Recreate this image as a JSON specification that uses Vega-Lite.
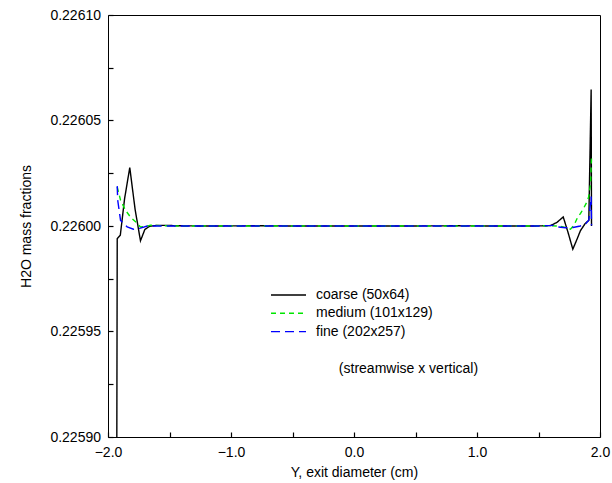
{
  "$schema": "https://vega.github.io/schema/vega-lite/v6.json",
  "width": 492,
  "height": 422,
  "autosize": {"type": "none"},
  "padding": {"left": 108, "top": 15, "right": 12, "bottom": 46},
  "config": {
    "view": {"stroke": "black", "strokeWidth": 1},
    "font": "Liberation Sans",
    "axis": {
      "domain": false,
      "grid": false,
      "ticks": true,
      "tickColor": "black",
      "tickWidth": 1.2,
      "tickSize": -5,
      "labelFont": "Liberation Sans",
      "labelFontSize": 14,
      "labelColor": "black",
      "titleFont": "Liberation Sans",
      "titleFontSize": 14,
      "titleFontWeight": "normal",
      "titleColor": "black"
    }
  },
  "datasets": {
    "lines": [
      {"grid": "coarse (50x64)", "y_cm": -1.93, "h2o": 0.22585},
      {"grid": "coarse (50x64)", "y_cm": -1.925, "h2o": 0.225994},
      {"grid": "coarse (50x64)", "y_cm": -1.9, "h2o": 0.2259956},
      {"grid": "coarse (50x64)", "y_cm": -1.865, "h2o": 0.226013},
      {"grid": "coarse (50x64)", "y_cm": -1.823, "h2o": 0.2260277},
      {"grid": "coarse (50x64)", "y_cm": -1.78, "h2o": 0.226008},
      {"grid": "coarse (50x64)", "y_cm": -1.736, "h2o": 0.225993},
      {"grid": "coarse (50x64)", "y_cm": -1.7, "h2o": 0.2259984},
      {"grid": "coarse (50x64)", "y_cm": -1.66, "h2o": 0.2259999},
      {"grid": "coarse (50x64)", "y_cm": -1.6, "h2o": 0.2260003},
      {"grid": "coarse (50x64)", "y_cm": -1.52, "h2o": 0.2260003},
      {"grid": "coarse (50x64)", "y_cm": -1.44, "h2o": 0.2260001},
      {"grid": "coarse (50x64)", "y_cm": -1.2, "h2o": 0.226},
      {"grid": "coarse (50x64)", "y_cm": -0.8, "h2o": 0.2260001},
      {"grid": "coarse (50x64)", "y_cm": -0.4, "h2o": 0.226},
      {"grid": "coarse (50x64)", "y_cm": 0.0, "h2o": 0.226},
      {"grid": "coarse (50x64)", "y_cm": 0.4, "h2o": 0.226},
      {"grid": "coarse (50x64)", "y_cm": 0.8, "h2o": 0.2260001},
      {"grid": "coarse (50x64)", "y_cm": 1.2, "h2o": 0.226},
      {"grid": "coarse (50x64)", "y_cm": 1.45, "h2o": 0.226},
      {"grid": "coarse (50x64)", "y_cm": 1.55, "h2o": 0.2260001},
      {"grid": "coarse (50x64)", "y_cm": 1.598, "h2o": 0.2260002},
      {"grid": "coarse (50x64)", "y_cm": 1.65, "h2o": 0.2260017},
      {"grid": "coarse (50x64)", "y_cm": 1.701, "h2o": 0.2260043},
      {"grid": "coarse (50x64)", "y_cm": 1.74, "h2o": 0.225997},
      {"grid": "coarse (50x64)", "y_cm": 1.779, "h2o": 0.225989},
      {"grid": "coarse (50x64)", "y_cm": 1.815, "h2o": 0.225994},
      {"grid": "coarse (50x64)", "y_cm": 1.841, "h2o": 0.2259978},
      {"grid": "coarse (50x64)", "y_cm": 1.88, "h2o": 0.2260012},
      {"grid": "coarse (50x64)", "y_cm": 1.909, "h2o": 0.2260027},
      {"grid": "coarse (50x64)", "y_cm": 1.928, "h2o": 0.2260647},
      {"grid": "coarse (50x64)", "y_cm": 1.931, "h2o": 0.226},
      {"grid": "medium (101x129)", "y_cm": -1.925, "h2o": 0.2260185},
      {"grid": "medium (101x129)", "y_cm": -1.898, "h2o": 0.2260122},
      {"grid": "medium (101x129)", "y_cm": -1.858, "h2o": 0.2260075},
      {"grid": "medium (101x129)", "y_cm": -1.817, "h2o": 0.2260042},
      {"grid": "medium (101x129)", "y_cm": -1.776, "h2o": 0.226002},
      {"grid": "medium (101x129)", "y_cm": -1.736, "h2o": 0.2259995},
      {"grid": "medium (101x129)", "y_cm": -1.695, "h2o": 0.2259998},
      {"grid": "medium (101x129)", "y_cm": -1.654, "h2o": 0.2260004},
      {"grid": "medium (101x129)", "y_cm": -1.58, "h2o": 0.2260002},
      {"grid": "medium (101x129)", "y_cm": -1.4, "h2o": 0.226},
      {"grid": "medium (101x129)", "y_cm": -0.7, "h2o": 0.226},
      {"grid": "medium (101x129)", "y_cm": 0.0, "h2o": 0.226},
      {"grid": "medium (101x129)", "y_cm": 0.7, "h2o": 0.226},
      {"grid": "medium (101x129)", "y_cm": 1.4, "h2o": 0.226},
      {"grid": "medium (101x129)", "y_cm": 1.55, "h2o": 0.2260001},
      {"grid": "medium (101x129)", "y_cm": 1.65, "h2o": 0.226},
      {"grid": "medium (101x129)", "y_cm": 1.7, "h2o": 0.2259996},
      {"grid": "medium (101x129)", "y_cm": 1.76, "h2o": 0.2259985},
      {"grid": "medium (101x129)", "y_cm": 1.79, "h2o": 0.2260005},
      {"grid": "medium (101x129)", "y_cm": 1.815, "h2o": 0.2260037},
      {"grid": "medium (101x129)", "y_cm": 1.842, "h2o": 0.226006},
      {"grid": "medium (101x129)", "y_cm": 1.866, "h2o": 0.2260083},
      {"grid": "medium (101x129)", "y_cm": 1.89, "h2o": 0.226011},
      {"grid": "medium (101x129)", "y_cm": 1.907, "h2o": 0.2260136},
      {"grid": "medium (101x129)", "y_cm": 1.923, "h2o": 0.22602},
      {"grid": "medium (101x129)", "y_cm": 1.931, "h2o": 0.226032},
      {"grid": "fine (202x257)", "y_cm": -1.925, "h2o": 0.2260189},
      {"grid": "fine (202x257)", "y_cm": -1.921, "h2o": 0.2260122},
      {"grid": "fine (202x257)", "y_cm": -1.898, "h2o": 0.2260027},
      {"grid": "fine (202x257)", "y_cm": -1.844, "h2o": 0.2259996},
      {"grid": "fine (202x257)", "y_cm": -1.793, "h2o": 0.2259985},
      {"grid": "fine (202x257)", "y_cm": -1.736, "h2o": 0.225999},
      {"grid": "fine (202x257)", "y_cm": -1.681, "h2o": 0.226},
      {"grid": "fine (202x257)", "y_cm": -1.5, "h2o": 0.226},
      {"grid": "fine (202x257)", "y_cm": -0.8, "h2o": 0.226},
      {"grid": "fine (202x257)", "y_cm": 0.0, "h2o": 0.226},
      {"grid": "fine (202x257)", "y_cm": 0.8, "h2o": 0.226},
      {"grid": "fine (202x257)", "y_cm": 1.5, "h2o": 0.226},
      {"grid": "fine (202x257)", "y_cm": 1.58, "h2o": 0.2260002},
      {"grid": "fine (202x257)", "y_cm": 1.622, "h2o": 0.2260003},
      {"grid": "fine (202x257)", "y_cm": 1.66, "h2o": 0.2259995},
      {"grid": "fine (202x257)", "y_cm": 1.72, "h2o": 0.2259992},
      {"grid": "fine (202x257)", "y_cm": 1.78, "h2o": 0.2259993},
      {"grid": "fine (202x257)", "y_cm": 1.84, "h2o": 0.226},
      {"grid": "fine (202x257)", "y_cm": 1.88, "h2o": 0.2260009},
      {"grid": "fine (202x257)", "y_cm": 1.909, "h2o": 0.2260027},
      {"grid": "fine (202x257)", "y_cm": 1.928, "h2o": 0.226014},
      {"grid": "fine (202x257)", "y_cm": 1.931, "h2o": 0.2260003}
    ],
    "note": [
      {"y_cm": 0.443, "h2o": 0.225932, "label": "(streamwise x vertical)"}
    ]
  },
  "layer": [
    {
      "data": {"name": "lines"},
      "mark": {"type": "line", "clip": true, "strokeWidth": 1.4},
      "encoding": {
        "x": {
          "field": "y_cm", "type": "quantitative",
          "scale": {"domain": [-2, 2], "nice": false, "zero": false},
          "axis": {
            "orient": "bottom",
            "values": [-2, -1.5, -1, -0.5, 0, 0.5, 1, 1.5, 2],
            "format": ".1f",
            "labelExpr": "datum.value % 1 == 0 ? datum.label : ''",
            "tickSize": -5,
            "labelPadding": 13,
            "labelFlush": false,
            "title": "Y, exit diameter (cm)",
            "titlePadding": 6
          }
        },
        "y": {
          "field": "h2o", "type": "quantitative",
          "scale": {"domain": [0.2259, 0.2261], "nice": false, "zero": false},
          "axis": {
            "orient": "left",
            "values": [0.2259, 0.225925, 0.22595, 0.225975, 0.226, 0.226025, 0.22605, 0.226075, 0.2261],
            "format": ".5f",
            "labelExpr": "round(datum.value*1000000) % 50 == 0 ? datum.label : ''",
            "tickSize": -5,
            "labelPadding": 12.5,
            "labelFlush": false,
            "title": "H2O mass fractions",
            "titlePadding": 16
          }
        },
        "color": {
          "field": "grid", "type": "nominal",
          "scale": {"domain": ["coarse (50x64)", "medium (101x129)", "fine (202x257)"], "range": ["#000000", "#00e600", "#0000ff"]},
          "legend": {
            "title": null, "orient": "none", "legendX": 162, "legendY": 272,
            "symbolType": "stroke", "symbolSize": 1225, "symbolStrokeWidth": 1.4,
            "clipHeight": 16, "rowPadding": 2.3, "labelOffset": 9,
            "labelFont": "Liberation Sans", "labelFontSize": 14, "labelColor": "black",
            "padding": 0, "offset": 0
          }
        },
        "strokeDash": {
          "field": "grid", "type": "nominal",
          "scale": {"domain": ["coarse (50x64)", "medium (101x129)", "fine (202x257)"], "range": [[1, 0], [5, 4], [9, 5]]},
          "legend": {
            "title": null, "orient": "none", "legendX": 162, "legendY": 272,
            "symbolType": "stroke", "symbolSize": 1225, "symbolStrokeWidth": 1.4,
            "clipHeight": 16, "rowPadding": 2.3, "labelOffset": 9,
            "labelFont": "Liberation Sans", "labelFontSize": 14, "labelColor": "black",
            "padding": 0, "offset": 0
          }
        }
      }
    },
    {
      "data": {"name": "note"},
      "mark": {"type": "text", "font": "Liberation Sans", "fontSize": 14, "align": "center", "baseline": "middle", "color": "black"},
      "encoding": {
        "x": {"field": "y_cm", "type": "quantitative"},
        "y": {"field": "h2o", "type": "quantitative"},
        "text": {"field": "label", "type": "nominal"}
      }
    }
  ]
}
